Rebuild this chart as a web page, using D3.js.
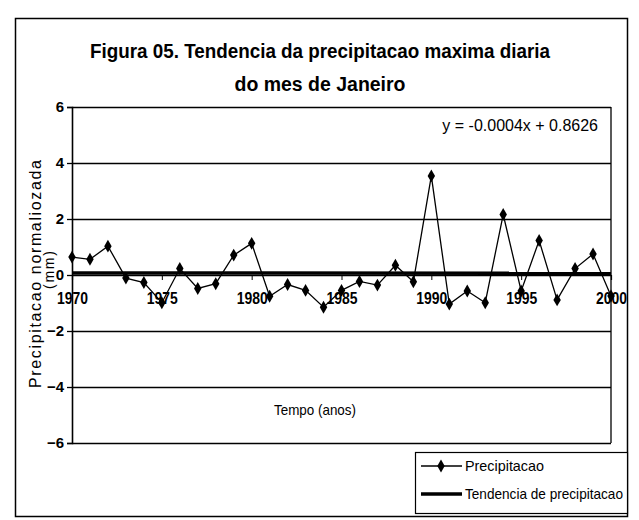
<!DOCTYPE html>
<html>
<head>
<meta charset="utf-8">
<script src="https://cdn.jsdelivr.net/npm/d3@7/dist/d3.min.js"></script>
<style>
  html, body { margin: 0; padding: 0; background: #fff; }
  svg { display: block; }
  text { font-family: "Liberation Sans Narrow", "Arial Narrow", "Liberation Sans", Arial, sans-serif; fill: #000; }
</style>
</head>
<body>
<svg id="chart" width="639" height="520"></svg>
<script>
// ---- data ----
const years = [1970,1971,1972,1973,1974,1975,1976,1977,1978,1979,1980,1981,1982,1983,1984,1985,1986,1987,1988,1989,1990,1991,1992,1993,1994,1995,1996,1997,1998,1999,2000];
const precipitacao = [0.64,0.56,1.03,-0.11,-0.27,-0.99,0.23,-0.48,-0.31,0.71,1.13,-0.76,-0.34,-0.55,-1.15,-0.55,-0.23,-0.36,0.35,-0.24,3.54,-1.04,-0.57,-0.99,2.16,-0.57,1.23,-0.89,0.23,0.75,-0.75];
const trendSlope = -0.0004;
const trendIntercept = 0.8626;
const yTicks = [-6,-4,-2,0,2,4,6];
const xTickLabels = [1970,1975,1980,1985,1990,1995,2000];
const titleLines = ["Figura 05. Tendencia da precipitacao maxima diaria", "do mes de Janeiro"];
const equationLabel = "y = -0.0004x + 0.8626";
const yTitle = ["Precipitacao normaliozada", "(mm)"];
const xTitle = "Tempo (anos)";
const legendLabels = ["Precipitacao", "Tendencia de precipitacao"];

// ---- layout ----
const FONT = "'Liberation Sans Narrow','Arial Narrow','Liberation Sans',Arial,sans-serif";
const svg = d3.select("#chart");
const P = { left: 72, right: 611, top: 107, bottom: 443 };
const x = d3.scaleLinear().domain([1970, 2000]).range([P.left, P.right]);
const y = d3.scaleLinear().domain([-6, 6]).range([P.bottom, P.top]);

// outer chart border
svg.append("rect").attr("x", 15.5).attr("y", 18.5).attr("width", 612).attr("height", 498)
  .attr("fill", "none").attr("stroke", "#000").attr("stroke-width", 1.5);

// titles
svg.append("text").attr("x", 320).attr("y", 58).attr("text-anchor", "middle")
  .attr("font-size", 20).attr("font-weight", "bold")
  .attr("textLength", 460).attr("lengthAdjust", "spacingAndGlyphs").text(titleLines[0]);
svg.append("text").attr("x", 320).attr("y", 91).attr("text-anchor", "middle")
  .attr("font-size", 20).attr("font-weight", "bold")
  .attr("textLength", 171).attr("lengthAdjust", "spacingAndGlyphs").text(titleLines[1]);

// gridlines
const grid = d3.axisLeft(y).tickValues(yTicks).tickSize(-(P.right - P.left)).tickFormat("");
const gg = svg.append("g").attr("transform", `translate(${P.left},0)`).call(grid);
gg.select(".domain").remove();
gg.selectAll(".tick line").attr("stroke", "#000").attr("stroke-width", 1.3);

// y axis
const yAxis = d3.axisLeft(y).tickValues(yTicks).tickSize(5).tickPadding(3).tickFormat(d3.format("d"));
const gy = svg.append("g").attr("transform", `translate(${P.left},0)`).call(yAxis);
gy.select(".domain").attr("stroke", "#000").attr("stroke-width", 1.6);
gy.selectAll(".tick line").attr("stroke", "#000").attr("stroke-width", 1.3);
gy.selectAll(".tick text").attr("font-size", 15).attr("font-weight", "bold").attr("font-family", FONT);

// right border of plot area
svg.append("line").attr("x1", P.right).attr("x2", P.right).attr("y1", y(6)).attr("y2", y(-6))
  .attr("stroke", "#000").attr("stroke-width", 1.3);

// x axis at zero
const xAxis = d3.axisBottom(x).tickValues(xTickLabels).tickSize(5).tickPadding(13).tickFormat(d3.format("d"));
const gx = svg.append("g").attr("transform", `translate(0,${y(0)})`).call(xAxis);
gx.select(".domain").attr("stroke", "#000").attr("stroke-width", 1.2);
gx.selectAll(".tick line").attr("stroke", "#000");
gx.selectAll(".tick text").attr("font-size", 16).attr("font-weight", "bold").attr("font-family", FONT)
  .attr("textLength", 31).attr("lengthAdjust", "spacingAndGlyphs");

// trend line
const trend = years.map(yr => ({ yr, v: trendSlope * yr + trendIntercept }));
svg.append("path").datum([trend[0], trend[trend.length - 1]])
  .attr("d", d3.line().x(d => x(d.yr)).y(d => y(d.v)))
  .attr("fill", "none").attr("stroke", "#000").attr("stroke-width", 3.5);

// data series
const series = years.map((yr, i) => ({ yr, v: precipitacao[i] }));
svg.append("path").datum(series)
  .attr("d", d3.line().x(d => x(d.yr)).y(d => y(d.v)))
  .attr("fill", "none").attr("stroke", "#000").attr("stroke-width", 1.3);
const diamond = d3.symbol().type(d3.symbolDiamond).size(48);
svg.selectAll(".pt").data(series).enter().append("path").attr("class", "pt")
  .attr("transform", d => `translate(${x(d.yr)},${y(d.v)})`)
  .attr("d", diamond).attr("fill", "#000");

// equation
svg.append("text").attr("x", 598).attr("y", 131).attr("text-anchor", "end")
  .attr("font-size", 16).text(equationLabel);

// axis titles
svg.append("text").attr("transform", "translate(41,274) rotate(-90)").attr("text-anchor", "middle")
  .attr("font-size", 16).attr("textLength", 228).attr("lengthAdjust", "spacing").text(yTitle[0]);
svg.append("text").attr("transform", "translate(54,270) rotate(-90)").attr("text-anchor", "middle")
  .attr("font-size", 14).attr("textLength", 38).attr("lengthAdjust", "spacing").text(yTitle[1]);
svg.append("text").attr("x", 315).attr("y", 415).attr("text-anchor", "middle")
  .attr("font-size", 15).attr("textLength", 82).attr("lengthAdjust", "spacingAndGlyphs").text(xTitle);

// legend
const lg = svg.append("g");
lg.append("rect").attr("x", 415.5).attr("y", 452.5).attr("width", 212).attr("height", 61)
  .attr("fill", "#fff").attr("stroke", "#000").attr("stroke-width", 1.2);
lg.append("line").attr("x1", 421).attr("x2", 462).attr("y1", 466).attr("y2", 466)
  .attr("stroke", "#000").attr("stroke-width", 1.3);
lg.append("path").attr("transform", "translate(441,466)").attr("d", diamond).attr("fill", "#000");
lg.append("text").attr("x", 465).attr("y", 471).attr("font-size", 15)
  .attr("textLength", 79).attr("lengthAdjust", "spacingAndGlyphs").text(legendLabels[0]);
lg.append("line").attr("x1", 421).attr("x2", 462).attr("y1", 494).attr("y2", 494)
  .attr("stroke", "#000").attr("stroke-width", 3.5);
lg.append("text").attr("x", 465).attr("y", 499).attr("font-size", 15)
  .attr("textLength", 158).attr("lengthAdjust", "spacingAndGlyphs").text(legendLabels[1]);
</script>
</body>
</html>
